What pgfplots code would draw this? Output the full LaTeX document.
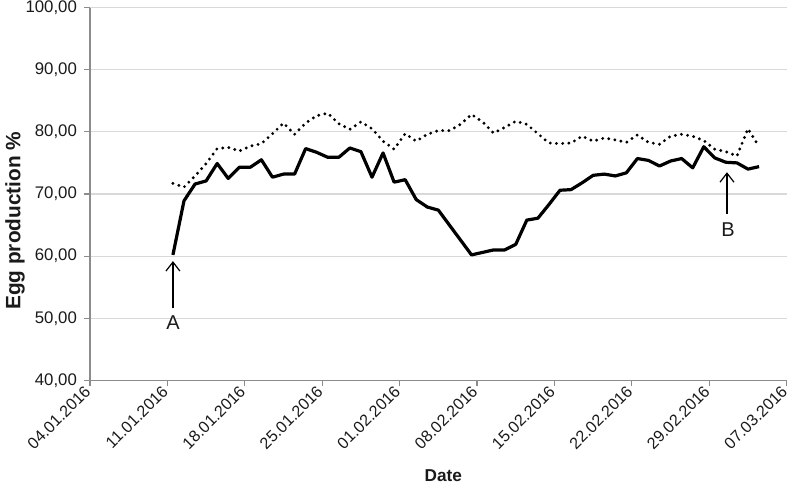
\documentclass[border=0pt]{standalone}
\usepackage{fontspec}
\setmainfont{Liberation Sans}
\usepackage{pgfplots}
\pgfplotsset{compat=1.18}
\usetikzlibrary{arrows.meta,calc}
\definecolor{axisgray}{HTML}{8C8C8C}
\definecolor{gridgray}{HTML}{D9D9D9}
\definecolor{txt}{HTML}{1A1A1A}
\begin{document}
\begin{tikzpicture}
\begin{axis}[
  scale only axis,
  width=348.4pt, height=186.5pt,
  xmin=0, xmax=63,
  ymin=40, ymax=100,
  axis lines*=left,
  axis line style={axisgray, line width=0.6pt},
  ytick={40,50,...,100},
  xtick={0,7,...,63},
  xticklabels={04.01.2016,11.01.2016,18.01.2016,25.01.2016,01.02.2016,08.02.2016,15.02.2016,22.02.2016,29.02.2016,07.03.2016},
  ymajorgrids,
  grid style={gridgray, line width=0.6pt},
  tick style={axisgray, line width=0.6pt},
  tick align=outside,
  major tick length=3pt,
  /pgf/number format/assume math mode=true,
  yticklabel style={font=\fontsize{8.4}{10}\selectfont, text=txt, /pgf/number format/.cd, fixed, fixed zerofill, precision=2, use comma},
  xticklabel style={font=\fontsize{8.1}{10}\selectfont, text=txt, rotate=45, anchor=east, inner sep=1.5pt},
  every axis y label/.style={at={(axis description cs:-0.1077,0.428)}, rotate=90, anchor=center, font=\bfseries\fontsize{10.4}{12}\selectfont, text=txt},
  every axis x label/.style={at={(axis description cs:0.507,-0.256)}, anchor=center, font=\bfseries\fontsize{8.6}{10}\selectfont, text=txt},
  ylabel={Egg production \%},
  xlabel={Date},
  clip=false,
]
\coordinate (sw) at (rel axis cs:0,0);
\coordinate (ne) at (rel axis cs:1,1);
% dotted series
\addplot[black, line width=1.6pt, line cap=round, dash pattern=on 0pt off 3.1pt] coordinates {
(7.5,71.7) (8.5,71.1) (9.5,72.9) (10.5,74.9) (11.5,77.3) (12.5,77.5) (13.5,76.9) (14.5,77.7) (15.5,78.1) (16.5,79.7)
(17.5,81.4) (18.5,79.6) (19.5,81.4) (20.5,82.6) (21.5,83.0) (22.5,81.3) (23.5,80.4) (24.5,81.6) (25.5,80.5) (26.5,78.5)
(27.5,77.2) (28.5,79.7) (29.5,78.5) (30.5,79.6) (31.5,80.2) (32.5,80.2) (33.5,81.2) (34.5,82.8) (35.5,81.6) (36.5,79.8)
(37.5,80.7) (38.5,81.7) (39.5,81.2) (40.5,79.7) (41.5,78.2) (42.5,78.1) (43.5,78.2) (44.5,79.3) (45.5,78.5) (46.5,79.0)
(47.5,78.7) (48.5,78.3) (49.5,79.5) (50.5,78.3) (51.5,78.0) (52.5,79.3) (53.5,79.6) (54.5,79.3) (55.5,78.6) (56.5,77.2)
(57.5,76.8) (58.5,76.1) (59.5,80.5) (60.5,77.6)
};
% solid series
\addplot[black, line width=1.6pt, line join=round] coordinates {
(7.5,60.2) (8.5,68.9) (9.5,71.6) (10.5,72.1) (11.5,74.9) (12.5,72.5) (13.5,74.3) (14.5,74.3) (15.5,75.5) (16.5,72.7)
(17.5,73.2) (18.5,73.2) (19.5,77.3) (20.5,76.7) (21.5,75.9) (22.5,75.9) (23.5,77.4) (24.5,76.8) (25.5,72.7) (26.5,76.6)
(27.5,71.9) (28.5,72.3) (29.5,69.1) (30.5,67.9) (31.5,67.4) (32.5,65.0) (33.5,62.6) (34.5,60.2) (35.5,60.6) (36.5,61.0)
(37.5,61.0) (38.5,61.9) (39.5,65.8) (40.5,66.1) (41.5,68.3) (42.5,70.6) (43.5,70.7) (44.5,71.8) (45.5,73.0) (46.5,73.2)
(47.5,72.9) (48.5,73.4) (49.5,75.7) (50.5,75.4) (51.5,74.5) (52.5,75.3) (53.5,75.7) (54.5,74.2) (55.5,77.6) (56.5,75.8)
(57.5,75.1) (58.5,75.0) (59.5,74.0) (60.5,74.4)
};
% annotations
\draw[-{Straight Barb[length=4.5pt,width=7pt]}, line width=0.6pt, black] (axis cs:7.5,51.6) -- (axis cs:7.5,59.2);
\node[font=\fontsize{10}{12}\selectfont, text=txt] at (axis cs:7.5,49.3) {A};
\draw[-{Straight Barb[length=4.5pt,width=7pt]}, line width=0.6pt, black] (axis cs:57.6,66.8) -- (axis cs:57.6,73.5);
\node[font=\fontsize{10}{12}\selectfont, text=txt] at (axis cs:57.7,64.2) {B};
\end{axis}
\pgfresetboundingbox
\path[use as bounding box] ($(sw)+(-45pt,-55.25pt)$) rectangle ($(ne)+(6.65pt,3.75pt)$);
\end{tikzpicture}
\end{document}
